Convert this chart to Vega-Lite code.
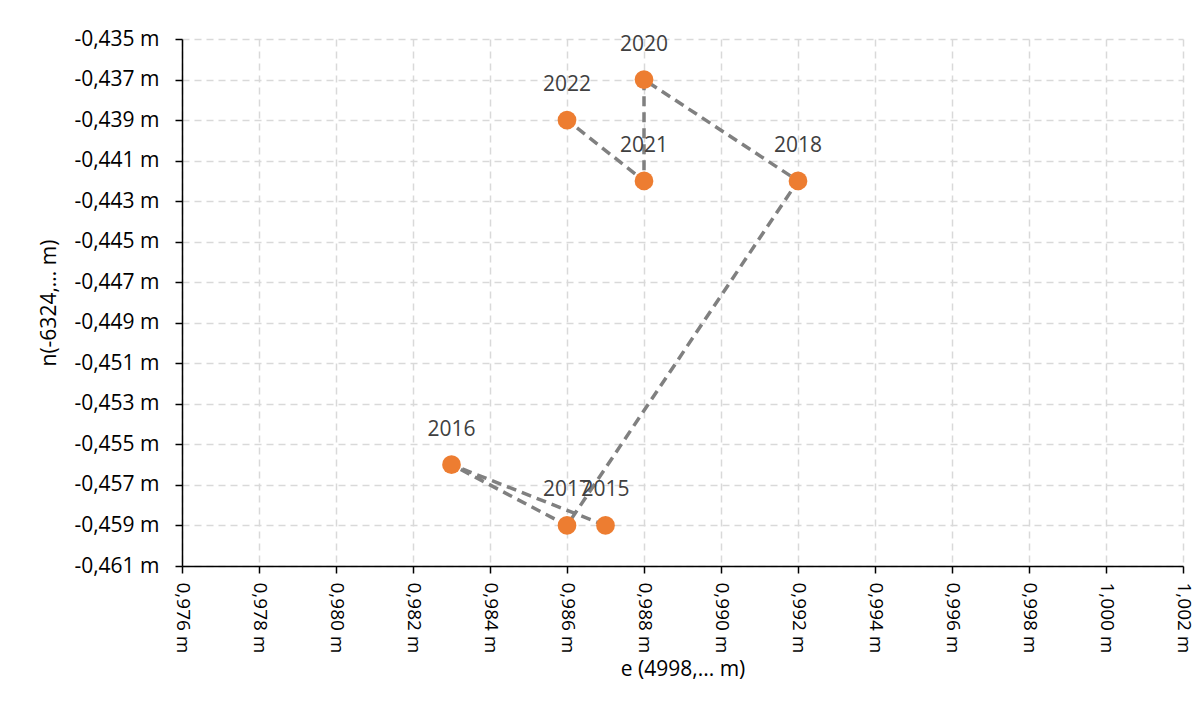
{
  "$schema": "https://vega.github.io/schema/vega-lite/v6.json",
  "width": 1001,
  "height": 527,
  "autosize": {"type": "none"},
  "padding": {"left": 182, "top": 39, "right": 13, "bottom": 152},
  "background": "white",
  "config": {"view": {"stroke": null}, "font": "Open Sans"},
  "data": {
    "values": [
      {"year": "2015", "order": 2015, "e": 0.987, "n": -0.459},
      {"year": "2016", "order": 2016, "e": 0.983, "n": -0.456},
      {"year": "2017", "order": 2017, "e": 0.986, "n": -0.459},
      {"year": "2018", "order": 2018, "e": 0.992, "n": -0.442},
      {"year": "2020", "order": 2020, "e": 0.988, "n": -0.437},
      {"year": "2021", "order": 2021, "e": 0.988, "n": -0.442},
      {"year": "2022", "order": 2022, "e": 0.986, "n": -0.439}
    ]
  },
  "encoding": {
    "x": {
      "field": "e", "type": "quantitative",
      "scale": {"domain": [0.976, 1.002], "nice": false, "zero": false},
      "axis": {
        "title": "e (4998,... m)",
        "values": [0.976, 0.978, 0.98, 0.982, 0.984, 0.986, 0.988, 0.99, 0.992, 0.994, 0.996, 0.998, 1.0, 1.002],
        "labelExpr": "(datum.value < 0 ? '-' : '') + replace(format(abs(datum.value), '.3f'), '.', ',') + ' m'",
        "labelAngle": 90,
        "labelFontSize": 19,
        "labelColor": "#000000",
        "labelPadding": 9,
        "labelFont": "Open Sans",
        "titleFont": "Open Sans",
        "titleFontSize": 21,
        "titleFontWeight": "normal",
        "titleColor": "#000000",
        "titlePadding": 6,
        "domainColor": "#000000",
        "domainWidth": 1.5,
        "tickColor": "#000000",
        "tickWidth": 1.5,
        "tickSize": 7,
        "grid": true,
        "gridColor": "#d9d9d9",
        "gridDash": [7, 5],
        "gridWidth": 1.5,
        "labelOverlap": false,
        "labelFlush": false
      }
    },
    "y": {
      "field": "n", "type": "quantitative",
      "scale": {"domain": [-0.461, -0.435], "nice": false, "zero": false},
      "axis": {
        "title": "n(-6324,... m)",
        "values": [-0.461, -0.459, -0.457, -0.455, -0.453, -0.451, -0.449, -0.447, -0.445, -0.443, -0.441, -0.439, -0.437, -0.435],
        "labelExpr": "(datum.value < 0 ? '-' : '') + replace(format(abs(datum.value), '.3f'), '.', ',') + ' m'",
        "labelFontSize": 21,
        "labelColor": "#000000",
        "labelPadding": 16,
        "labelFont": "Open Sans",
        "titleFont": "Open Sans",
        "titleFontSize": 21,
        "titleFontWeight": "normal",
        "titleColor": "#000000",
        "titlePadding": 14,
        "domainColor": "#000000",
        "domainWidth": 1.5,
        "tickColor": "#000000",
        "tickWidth": 1.5,
        "tickSize": 7,
        "grid": true,
        "gridColor": "#d9d9d9",
        "gridDash": [7, 5],
        "gridWidth": 1.5,
        "labelOverlap": false,
        "labelFlush": false
      }
    }
  },
  "layer": [
    {
      "mark": {"type": "line", "color": "#808080", "strokeWidth": 3.5, "strokeDash": [10, 6]},
      "encoding": {"order": {"field": "order", "type": "quantitative"}}
    },
    {
      "mark": {"type": "point", "filled": true, "color": "#ED7D31", "size": 350, "opacity": 1}
    },
    {
      "mark": {"type": "text", "dy": -35, "fontSize": 21, "color": "#404040", "font": "Open Sans"},
      "encoding": {"text": {"field": "year"}}
    }
  ]
}
